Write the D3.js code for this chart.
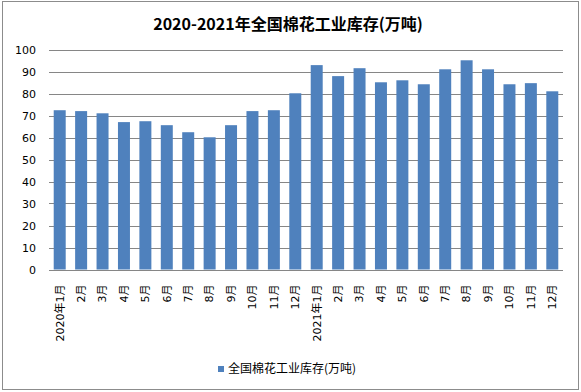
<!DOCTYPE html>
<html><head><meta charset="utf-8">
<script src="https://cdn.jsdelivr.net/npm/d3@7"></script>
<style>body{margin:0;background:#fff}svg{display:block}</style>
</head><body>
<script>
const title = "2020-2021年全国棉花工业库存(万吨)";
const seriesName = "全国棉花工业库存(万吨)";
const categories = ["2020年1月","2月","3月","4月","5月","6月","7月","8月","9月","10月","11月","12月",
                    "2021年1月","2月","3月","4月","5月","6月","7月","8月","9月","10月","11月","12月"];
const values = [72.4,72.0,71.0,67.0,67.4,65.6,62.4,60.1,65.6,72.0,72.4,80.1,
                92.9,87.9,91.5,85.1,86.0,84.2,91.0,95.1,91.0,84.2,84.7,81.0];
const yTicks = [0,10,20,30,40,50,60,70,80,90,100];

const W = 581, H = 392;
const m = {left:49, right:563, top:49.5, bottom:269.5};
const svg = d3.select("body").append("svg").attr("width",W).attr("height",H);
svg.append("rect").attr("x",2.5).attr("y",1.5).attr("width",576).attr("height",388)
  .attr("fill","#fff").attr("stroke","#8c8c8c").attr("stroke-width",1);

const x = d3.scaleBand().domain(d3.range(categories.length)).range([m.left,m.right]).paddingInner(0.44).paddingOuter(0.22);
const y = d3.scaleLinear().domain([0,100]).range([m.bottom,m.top]);

svg.append("text").attr("x",288).attr("y",30).attr("text-anchor","middle")
  .attr("font-family","'Noto Sans CJK SC', sans-serif").attr("font-size",16).attr("font-weight","bold")
  .attr("fill","#000").text(title);

// gridlines
svg.append("g").selectAll("line").data(yTicks).join("line")
  .attr("x1",m.left).attr("x2",m.right)
  .attr("y1",d=>Math.round(y(d))+0.5).attr("y2",d=>Math.round(y(d))+0.5)
  .attr("stroke","#868686").attr("stroke-width",1);

// y axis labels
const yAxis = d3.axisLeft(y).tickValues(yTicks).tickSize(0).tickPadding(13);
const ga = svg.append("g").attr("transform",`translate(${m.left},0)`).call(yAxis);
ga.select(".domain").remove();
ga.selectAll("text").attr("font-family","'DejaVu Sans', sans-serif").attr("font-size",11).attr("fill","#000");

// bars
svg.append("g").selectAll("rect").data(values).join("rect")
  .attr("x",(d,i)=>x(i)).attr("width",x.bandwidth())
  .attr("y",d=>y(d)).attr("height",d=>y(0)-y(d))
  .attr("fill","#4F81BD");

// baseline
svg.append("line").attr("x1",m.left).attr("x2",m.right)
  .attr("y1",Math.round(y(0))+0.5).attr("y2",Math.round(y(0))+0.5).attr("stroke","#868686");

// x labels
const xAxis = d3.axisBottom(x).tickFormat(i=>categories[i]).tickSize(0);
const gx = svg.append("g").attr("transform",`translate(0,${m.bottom})`).call(xAxis);
gx.select(".domain").remove();
gx.selectAll("text")
  .attr("font-family","'DejaVu Sans', 'Noto Sans CJK SC', sans-serif").attr("font-size",11).attr("fill","#000")
  .attr("transform","rotate(-90)").attr("text-anchor","end").attr("dy","0.35em").attr("x",-15).attr("y",0);

// legend
const lg = svg.append("g");
lg.append("rect").attr("x",218).attr("y",366).attr("width",6).attr("height",6).attr("fill","#4F81BD");
lg.append("text").attr("x",228).attr("y",369).attr("dy","0.35em")
  .attr("font-family","'Noto Sans CJK SC', sans-serif").attr("font-size",12).attr("fill","#000").text(seriesName);
</script>
</body></html>
